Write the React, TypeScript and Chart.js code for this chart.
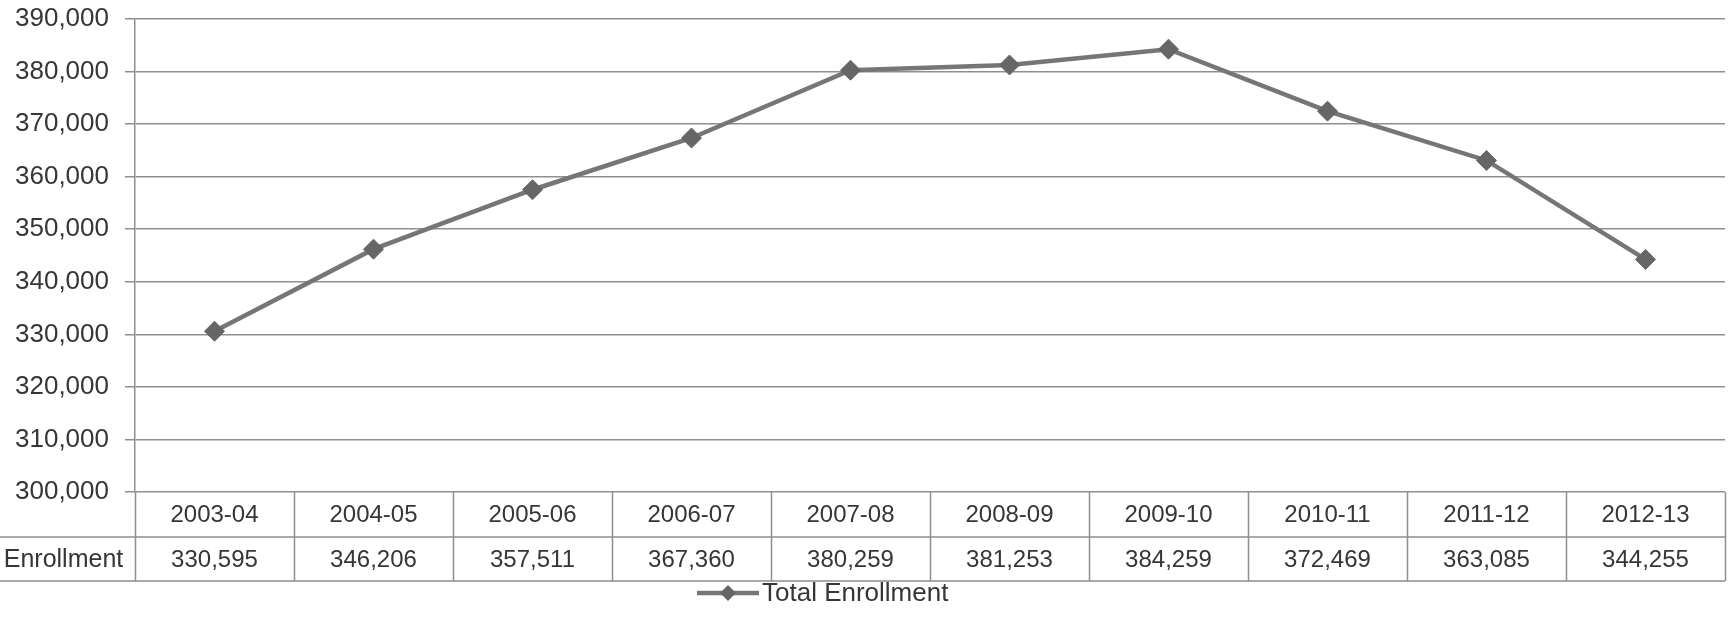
import React, { useEffect, useRef } from "react";
import { Chart, registerables } from "chart.js";

Chart.register(...registerables);

const schoolYears = [
  "2003-04", "2004-05", "2005-06", "2006-07", "2007-08",
  "2008-09", "2009-10", "2010-11", "2011-12", "2012-13",
];
const enrollment = [
  330595, 346206, 357511, 367360, 380259,
  381253, 384259, 372469, 363085, 344255,
];
const seriesName = "Total Enrollment";
const tableRowLabel = "Enrollment";
const yMin = 300000;
const yMax = 390000;
const yStep = 10000;

const FONT = '"Liberation Sans", Arial, sans-serif';
const TEXT = "#363636";
const GRID = "#8f8f8f";
const LINE = "#767676";
const MARK = "#666666";

const fmt = (v: number) => v.toLocaleString("en-US");

// Data table under the plot plus a custom legend (line + diamond + label)
const tableAndLegend = {
  id: "tableAndLegend",
  afterDraw(chart: any) {
    const { ctx, chartArea, scales } = chart;
    const xs = scales.x;
    const n = schoolYears.length;
    const colW = (chartArea.right - chartArea.left) / n;
    const y0 = chartArea.bottom;
    const y1 = y0 + 45;
    const y2 = y1 + 44;

    ctx.save();
    ctx.strokeStyle = GRID;
    ctx.lineWidth = 1.5;
    ctx.beginPath();
    ctx.moveTo(0, y1);
    ctx.lineTo(chartArea.right, y1);
    ctx.moveTo(0, y2);
    ctx.lineTo(chartArea.right, y2);
    for (let i = 0; i <= n; i++) {
      const x = Math.round(chartArea.left + i * colW) + 0.5;
      ctx.moveTo(x, y0);
      ctx.lineTo(x, y2);
    }
    ctx.stroke();

    ctx.fillStyle = TEXT;
    ctx.font = `24px ${FONT}`;
    ctx.textAlign = "center";
    ctx.textBaseline = "middle";
    for (let i = 0; i < n; i++) {
      const cx = xs.getPixelForValue(i);
      ctx.fillText(schoolYears[i], cx, (y0 + y1) / 2 + 1);
      ctx.fillText(fmt(enrollment[i]), cx, (y1 + y2) / 2 + 1);
    }
    ctx.font = `25px ${FONT}`;
    ctx.fillText(tableRowLabel, chartArea.left / 2 - 4, (y1 + y2) / 2 + 1);

    // legend
    const ly = 593;
    const lx0 = 697;
    const lx1 = 759;
    ctx.strokeStyle = LINE;
    ctx.lineWidth = 4.5;
    ctx.beginPath();
    ctx.moveTo(lx0, ly);
    ctx.lineTo(lx1, ly);
    ctx.stroke();
    const mx = (lx0 + lx1) / 2;
    const r = 8;
    ctx.fillStyle = MARK;
    ctx.beginPath();
    ctx.moveTo(mx, ly - r);
    ctx.lineTo(mx + r, ly);
    ctx.lineTo(mx, ly + r);
    ctx.lineTo(mx - r, ly);
    ctx.closePath();
    ctx.fill();
    ctx.fillStyle = TEXT;
    ctx.font = `26px ${FONT}`;
    ctx.textAlign = "left";
    ctx.fillText(seriesName, lx1 + 3, ly + 1);
    ctx.restore();
  },
};

export default function App() {
  const ref = useRef<HTMLCanvasElement | null>(null);

  useEffect(() => {
    if (!ref.current) return;
    const chart = new Chart(ref.current, {
      type: "line",
      data: {
        labels: schoolYears,
        datasets: [
          {
            label: seriesName,
            data: enrollment,
            borderColor: LINE,
            borderWidth: 4.5,
            pointStyle: "rectRot",
            pointRadius: 10,
            pointBackgroundColor: MARK,
            pointBorderColor: MARK,
            pointBorderWidth: 1,
            tension: 0,
          },
        ],
      },
      options: {
        animation: false,
        responsive: false,
        layout: { padding: { top: 19, right: 3, left: 0, bottom: 0 } },
        plugins: {
          legend: { display: false },
          tooltip: { enabled: false },
        },
        scales: {
          x: {
            offset: true,
            grid: { display: false },
            border: { display: false },
            ticks: { display: false },
            afterFit: (s: any) => {
              s.height = 143;
            },
          },
          y: {
            min: yMin,
            max: yMax,
            ticks: {
              stepSize: yStep,
              color: TEXT,
              font: { family: FONT, size: 26 },
              padding: 16,
              callback: (v: any) => fmt(Number(v)),
            },
            grid: { color: GRID, lineWidth: 1.5, tickLength: 10 },
            border: { display: true, color: GRID, width: 1.5 },
            afterFit: (s: any) => {
              s.width = 135;
              s.paddingTop = 0;
              s.paddingBottom = 0;
            },
          },
        },
      },
      plugins: [tableAndLegend],
    });
    return () => chart.destroy();
  }, []);

  return (
    <div style={{ position: "absolute", left: 0, top: 0, width: 1736, height: 635, background: "#fff" }}>
      <canvas ref={ref} width={1736} height={635} />
    </div>
  );
}
